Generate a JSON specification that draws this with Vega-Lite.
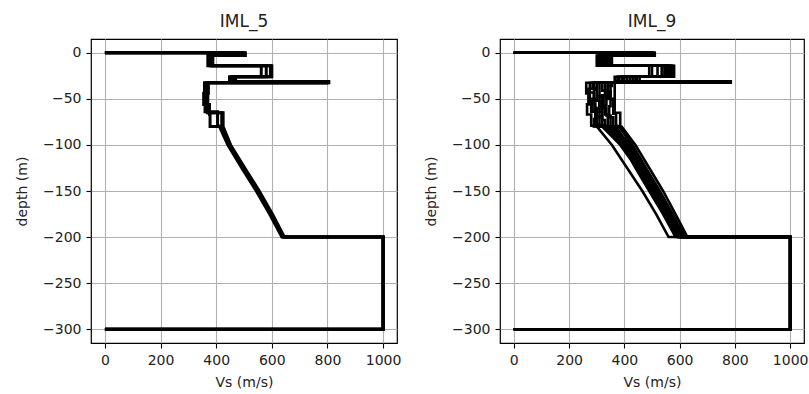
{
"$schema": "https://vega.github.io/schema/vega-lite/v6.json",
"padding": {"left": 14, "top": 12, "right": 0, "bottom": 0},
"spacing": 103,
"bounds": "flush",
"config": {
  "font": "DejaVu Sans",
  "view": {"stroke": "black", "strokeWidth": 1.2},
  "axis": {"grid": true, "gridColor": "#b0b0b0", "gridWidth": 1.1, "domain": false, "tickColor": "black", "tickSize": 5, "tickWidth": 1.1, "labelFontSize": 14, "labelColor": "#222222", "titleFontSize": 14, "titleFontWeight": "normal", "titleColor": "#222222", "labelPadding": 5, "format": "d"},
  "axisY": {"titlePadding": 13},
  "axisX": {"titlePadding": 8},
  "title": {"fontSize": 17, "fontWeight": "normal", "offset": 8, "color": "#222222"}
},
"datasets": {
"iml5": [
{"p":1,"v":0,"d":0},{"p":1,"v":505,"d":0},{"p":1,"v":505,"d":-3},{"p":1,"v":378,"d":-3},{"p":1,"v":378,"d":-14},{"p":1,"v":595,"d":-14},{"p":1,"v":595,"d":-26},{"p":1,"v":455,"d":-26},{"p":1,"v":455,"d":-31},{"p":1,"v":800,"d":-31},{"p":1,"v":800,"d":-32.5},{"p":1,"v":365,"d":-32.5},{"p":1,"v":365,"d":-56},{"p":1,"v":368,"d":-56},{"p":1,"v":368,"d":-65},{"p":1,"v":420,"d":-65},{"p":1,"v":420,"d":-80},{"p":1,"v":448,"d":-100},{"p":1,"v":498,"d":-125},{"p":1,"v":550,"d":-150},{"p":1,"v":598,"d":-175},{"p":1,"v":642,"d":-200},{"p":1,"v":1000,"d":-200},{"p":1,"v":1000,"d":-300},{"p":1,"v":0,"d":-300},
{"p":2,"v":0,"d":0},{"p":2,"v":480,"d":0},{"p":2,"v":480,"d":-3},{"p":2,"v":370,"d":-3},{"p":2,"v":370,"d":-14},{"p":2,"v":580,"d":-14},{"p":2,"v":580,"d":-26},{"p":2,"v":462,"d":-26},{"p":2,"v":462,"d":-31},{"p":2,"v":798,"d":-31},{"p":2,"v":798,"d":-32.5},{"p":2,"v":358,"d":-32.5},{"p":2,"v":358,"d":-44},{"p":2,"v":360,"d":-44},{"p":2,"v":360,"d":-64},{"p":2,"v":405,"d":-64},{"p":2,"v":405,"d":-78},{"p":2,"v":412,"d":-80},{"p":2,"v":442,"d":-100},{"p":2,"v":492,"d":-125},{"p":2,"v":544,"d":-150},{"p":2,"v":592,"d":-175},{"p":2,"v":636,"d":-200},{"p":2,"v":1000,"d":-200},{"p":2,"v":1000,"d":-300},{"p":2,"v":0,"d":-300},
{"p":3,"v":0,"d":0},{"p":3,"v":500,"d":0},{"p":3,"v":500,"d":-3},{"p":3,"v":388,"d":-3},{"p":3,"v":388,"d":-14},{"p":3,"v":562,"d":-14},{"p":3,"v":562,"d":-26},{"p":3,"v":448,"d":-26},{"p":3,"v":448,"d":-31},{"p":3,"v":795,"d":-31},{"p":3,"v":795,"d":-32.5},{"p":3,"v":372,"d":-32.5},{"p":3,"v":372,"d":-44},{"p":3,"v":370,"d":-44},{"p":3,"v":370,"d":-56},{"p":3,"v":376,"d":-56},{"p":3,"v":376,"d":-67},{"p":3,"v":378,"d":-67},{"p":3,"v":378,"d":-80},{"p":3,"v":416,"d":-80},{"p":3,"v":446,"d":-100},{"p":3,"v":496,"d":-125},{"p":3,"v":548,"d":-150},{"p":3,"v":596,"d":-175},{"p":3,"v":640,"d":-200},{"p":3,"v":1000,"d":-200},{"p":3,"v":1000,"d":-300},{"p":3,"v":0,"d":-300},
{"p":4,"v":0,"d":0},{"p":4,"v":470,"d":0},{"p":4,"v":470,"d":-3},{"p":4,"v":382,"d":-3},{"p":4,"v":382,"d":-14},{"p":4,"v":600,"d":-14},{"p":4,"v":600,"d":-26},{"p":4,"v":470,"d":-26},{"p":4,"v":470,"d":-31},{"p":4,"v":805,"d":-31},{"p":4,"v":805,"d":-32.5},{"p":4,"v":368,"d":-32.5},{"p":4,"v":368,"d":-44},{"p":4,"v":355,"d":-44},{"p":4,"v":355,"d":-56},{"p":4,"v":372,"d":-56},{"p":4,"v":372,"d":-65},{"p":4,"v":425,"d":-65},{"p":4,"v":425,"d":-80},{"p":4,"v":452,"d":-100},{"p":4,"v":503,"d":-125},{"p":4,"v":555,"d":-150},{"p":4,"v":602,"d":-175},{"p":4,"v":645,"d":-200},{"p":4,"v":1000,"d":-200},{"p":4,"v":1000,"d":-300},{"p":4,"v":0,"d":-300}
],
"iml9": [
{"p":1,"v":0,"d":0},{"p":1,"v":505,"d":0},{"p":1,"v":505,"d":-3},{"p":1,"v":305,"d":-3},{"p":1,"v":305,"d":-14},{"p":1,"v":580,"d":-14},{"p":1,"v":580,"d":-26},{"p":1,"v":365,"d":-26},{"p":1,"v":365,"d":-31},{"p":1,"v":780,"d":-31},{"p":1,"v":780,"d":-32.5},{"p":1,"v":262,"d":-32.5},{"p":1,"v":262,"d":-44},{"p":1,"v":275,"d":-44},{"p":1,"v":275,"d":-56},{"p":1,"v":265,"d":-56},{"p":1,"v":265,"d":-67},{"p":1,"v":280,"d":-67},{"p":1,"v":280,"d":-79},{"p":1,"v":300,"d":-80},{"p":1,"v":355,"d":-100},{"p":1,"v":410,"d":-125},{"p":1,"v":465,"d":-150},{"p":1,"v":515,"d":-175},{"p":1,"v":560,"d":-200},{"p":1,"v":1000,"d":-200},{"p":1,"v":1000,"d":-300},{"p":1,"v":0,"d":-300},
{"p":2,"v":0,"d":0},{"p":2,"v":490,"d":0},{"p":2,"v":490,"d":-3},{"p":2,"v":320,"d":-3},{"p":2,"v":320,"d":-14},{"p":2,"v":560,"d":-14},{"p":2,"v":560,"d":-26},{"p":2,"v":380,"d":-26},{"p":2,"v":380,"d":-31},{"p":2,"v":775,"d":-31},{"p":2,"v":775,"d":-32.5},{"p":2,"v":300,"d":-32.5},{"p":2,"v":300,"d":-40},{"p":2,"v":290,"d":-40},{"p":2,"v":290,"d":-52},{"p":2,"v":310,"d":-52},{"p":2,"v":310,"d":-70},{"p":2,"v":300,"d":-70},{"p":2,"v":300,"d":-80},{"p":2,"v":330,"d":-80},{"p":2,"v":395,"d":-100},{"p":2,"v":440,"d":-125},{"p":2,"v":490,"d":-150},{"p":2,"v":540,"d":-175},{"p":2,"v":585,"d":-200},{"p":2,"v":1000,"d":-200},{"p":2,"v":1000,"d":-300},{"p":2,"v":0,"d":-300},
{"p":3,"v":0,"d":0},{"p":3,"v":510,"d":0},{"p":3,"v":510,"d":-3},{"p":3,"v":340,"d":-3},{"p":3,"v":340,"d":-14},{"p":3,"v":575,"d":-14},{"p":3,"v":575,"d":-26},{"p":3,"v":400,"d":-26},{"p":3,"v":400,"d":-31},{"p":3,"v":782,"d":-31},{"p":3,"v":782,"d":-32.5},{"p":3,"v":330,"d":-32.5},{"p":3,"v":330,"d":-46},{"p":3,"v":320,"d":-46},{"p":3,"v":320,"d":-60},{"p":3,"v":335,"d":-60},{"p":3,"v":335,"d":-68},{"p":3,"v":350,"d":-68},{"p":3,"v":350,"d":-80},{"p":3,"v":370,"d":-80},{"p":3,"v":415,"d":-100},{"p":3,"v":462,"d":-125},{"p":3,"v":510,"d":-150},{"p":3,"v":560,"d":-175},{"p":3,"v":605,"d":-200},{"p":3,"v":1000,"d":-200},{"p":3,"v":1000,"d":-300},{"p":3,"v":0,"d":-300},
{"p":4,"v":0,"d":0},{"p":4,"v":475,"d":0},{"p":4,"v":475,"d":-3},{"p":4,"v":355,"d":-3},{"p":4,"v":355,"d":-14},{"p":4,"v":500,"d":-14},{"p":4,"v":500,"d":-26},{"p":4,"v":440,"d":-26},{"p":4,"v":440,"d":-31},{"p":4,"v":770,"d":-31},{"p":4,"v":770,"d":-32.5},{"p":4,"v":365,"d":-32.5},{"p":4,"v":365,"d":-65},{"p":4,"v":385,"d":-65},{"p":4,"v":385,"d":-80},{"p":4,"v":390,"d":-80},{"p":4,"v":440,"d":-100},{"p":4,"v":490,"d":-125},{"p":4,"v":540,"d":-150},{"p":4,"v":585,"d":-175},{"p":4,"v":628,"d":-200},{"p":4,"v":1000,"d":-200},{"p":4,"v":1000,"d":-300},{"p":4,"v":0,"d":-300},
{"p":5,"v":0,"d":0},{"p":5,"v":500,"d":0},{"p":5,"v":500,"d":-3},{"p":5,"v":310,"d":-3},{"p":5,"v":310,"d":-14},{"p":5,"v":545,"d":-14},{"p":5,"v":545,"d":-26},{"p":5,"v":420,"d":-26},{"p":5,"v":420,"d":-31},{"p":5,"v":780,"d":-31},{"p":5,"v":780,"d":-32.5},{"p":5,"v":285,"d":-32.5},{"p":5,"v":285,"d":-38},{"p":5,"v":300,"d":-38},{"p":5,"v":300,"d":-50},{"p":5,"v":280,"d":-50},{"p":5,"v":280,"d":-64},{"p":5,"v":320,"d":-64},{"p":5,"v":320,"d":-78},{"p":5,"v":345,"d":-80},{"p":5,"v":405,"d":-100},{"p":5,"v":455,"d":-125},{"p":5,"v":505,"d":-150},{"p":5,"v":555,"d":-175},{"p":5,"v":600,"d":-200},{"p":5,"v":1000,"d":-200},{"p":5,"v":1000,"d":-300},{"p":5,"v":0,"d":-300},
{"p":6,"v":0,"d":0},{"p":6,"v":485,"d":0},{"p":6,"v":485,"d":-3},{"p":6,"v":330,"d":-3},{"p":6,"v":330,"d":-14},{"p":6,"v":520,"d":-14},{"p":6,"v":520,"d":-26},{"p":6,"v":455,"d":-26},{"p":6,"v":455,"d":-31},{"p":6,"v":785,"d":-31},{"p":6,"v":785,"d":-32.5},{"p":6,"v":340,"d":-32.5},{"p":6,"v":340,"d":-42},{"p":6,"v":350,"d":-42},{"p":6,"v":350,"d":-58},{"p":6,"v":345,"d":-58},{"p":6,"v":345,"d":-70},{"p":6,"v":360,"d":-70},{"p":6,"v":360,"d":-80},{"p":6,"v":380,"d":-80},{"p":6,"v":430,"d":-100},{"p":6,"v":478,"d":-125},{"p":6,"v":528,"d":-150},{"p":6,"v":575,"d":-175},{"p":6,"v":620,"d":-200},{"p":6,"v":1000,"d":-200},{"p":6,"v":1000,"d":-300},{"p":6,"v":0,"d":-300},
{"p":7,"v":0,"d":0},{"p":7,"v":500,"d":0},{"p":7,"v":500,"d":-3},{"p":7,"v":345,"d":-3},{"p":7,"v":345,"d":-14},{"p":7,"v":565,"d":-14},{"p":7,"v":565,"d":-26},{"p":7,"v":390,"d":-26},{"p":7,"v":390,"d":-31},{"p":7,"v":778,"d":-31},{"p":7,"v":778,"d":-32.5},{"p":7,"v":310,"d":-32.5},{"p":7,"v":310,"d":-48},{"p":7,"v":325,"d":-48},{"p":7,"v":325,"d":-60},{"p":7,"v":300,"d":-60},{"p":7,"v":300,"d":-72},{"p":7,"v":290,"d":-72},{"p":7,"v":290,"d":-80},{"p":7,"v":320,"d":-80},{"p":7,"v":385,"d":-100},{"p":7,"v":445,"d":-125},{"p":7,"v":495,"d":-150},{"p":7,"v":548,"d":-175},{"p":7,"v":592,"d":-200},{"p":7,"v":1000,"d":-200},{"p":7,"v":1000,"d":-300},{"p":7,"v":0,"d":-300},
{"p":8,"v":0,"d":0},{"p":8,"v":470,"d":0},{"p":8,"v":470,"d":-3},{"p":8,"v":315,"d":-3},{"p":8,"v":315,"d":-14},{"p":8,"v":535,"d":-14},{"p":8,"v":535,"d":-26},{"p":8,"v":410,"d":-26},{"p":8,"v":410,"d":-31},{"p":8,"v":772,"d":-31},{"p":8,"v":772,"d":-32.5},{"p":8,"v":355,"d":-32.5},{"p":8,"v":355,"d":-36},{"p":8,"v":340,"d":-36},{"p":8,"v":340,"d":-50},{"p":8,"v":360,"d":-50},{"p":8,"v":360,"d":-66},{"p":8,"v":370,"d":-66},{"p":8,"v":370,"d":-79},{"p":8,"v":385,"d":-80},{"p":8,"v":425,"d":-100},{"p":8,"v":470,"d":-125},{"p":8,"v":520,"d":-150},{"p":8,"v":568,"d":-175},{"p":8,"v":612,"d":-200},{"p":8,"v":1000,"d":-200},{"p":8,"v":1000,"d":-300},{"p":8,"v":0,"d":-300},
{"p":9,"v":0,"d":0},{"p":9,"v":495,"d":0},{"p":9,"v":495,"d":-3},{"p":9,"v":350,"d":-3},{"p":9,"v":350,"d":-14},{"p":9,"v":555,"d":-14},{"p":9,"v":555,"d":-26},{"p":9,"v":375,"d":-26},{"p":9,"v":375,"d":-31},{"p":9,"v":780,"d":-31},{"p":9,"v":780,"d":-32.5},{"p":9,"v":275,"d":-32.5},{"p":9,"v":275,"d":-43},{"p":9,"v":290,"d":-43},{"p":9,"v":290,"d":-55},{"p":9,"v":295,"d":-55},{"p":9,"v":295,"d":-69},{"p":9,"v":310,"d":-69},{"p":9,"v":310,"d":-80},{"p":9,"v":340,"d":-80},{"p":9,"v":398,"d":-100},{"p":9,"v":450,"d":-125},{"p":9,"v":500,"d":-150},{"p":9,"v":550,"d":-175},{"p":9,"v":596,"d":-200},{"p":9,"v":1000,"d":-200},{"p":9,"v":1000,"d":-300},{"p":9,"v":0,"d":-300},
{"p":10,"v":0,"d":0},{"p":10,"v":508,"d":0},{"p":10,"v":508,"d":-3},{"p":10,"v":325,"d":-3},{"p":10,"v":325,"d":-14},{"p":10,"v":490,"d":-14},{"p":10,"v":490,"d":-26},{"p":10,"v":445,"d":-26},{"p":10,"v":445,"d":-31},{"p":10,"v":776,"d":-31},{"p":10,"v":776,"d":-32.5},{"p":10,"v":320,"d":-32.5},{"p":10,"v":320,"d":-41},{"p":10,"v":335,"d":-41},{"p":10,"v":335,"d":-57},{"p":10,"v":330,"d":-57},{"p":10,"v":330,"d":-67},{"p":10,"v":340,"d":-67},{"p":10,"v":340,"d":-80},{"p":10,"v":360,"d":-80},{"p":10,"v":420,"d":-100},{"p":10,"v":468,"d":-125},{"p":10,"v":518,"d":-150},{"p":10,"v":565,"d":-175},{"p":10,"v":615,"d":-200},{"p":10,"v":1000,"d":-200},{"p":10,"v":1000,"d":-300},{"p":10,"v":0,"d":-300},
{"p":11,"v":0,"d":0},{"p":11,"v":498,"d":0},{"p":11,"v":498,"d":-3},{"p":11,"v":335,"d":-3},{"p":11,"v":335,"d":-14},{"p":11,"v":570,"d":-14},{"p":11,"v":570,"d":-26},{"p":11,"v":430,"d":-26},{"p":11,"v":430,"d":-31},{"p":11,"v":779,"d":-31},{"p":11,"v":779,"d":-32.5},{"p":11,"v":290,"d":-32.5},{"p":11,"v":290,"d":-39},{"p":11,"v":270,"d":-39},{"p":11,"v":270,"d":-53},{"p":11,"v":285,"d":-53},{"p":11,"v":285,"d":-63},{"p":11,"v":295,"d":-63},{"p":11,"v":295,"d":-77},{"p":11,"v":325,"d":-80},{"p":11,"v":390,"d":-100},{"p":11,"v":448,"d":-125},{"p":11,"v":498,"d":-150},{"p":11,"v":552,"d":-175},{"p":11,"v":598,"d":-200},{"p":11,"v":1000,"d":-200},{"p":11,"v":1000,"d":-300},{"p":11,"v":0,"d":-300},
{"p":12,"v":0,"d":0},{"p":12,"v":480,"d":0},{"p":12,"v":480,"d":-3},{"p":12,"v":300,"d":-3},{"p":12,"v":300,"d":-14},{"p":12,"v":550,"d":-14},{"p":12,"v":550,"d":-26},{"p":12,"v":395,"d":-26},{"p":12,"v":395,"d":-31},{"p":12,"v":783,"d":-31},{"p":12,"v":783,"d":-32.5},{"p":12,"v":350,"d":-32.5},{"p":12,"v":350,"d":-47},{"p":12,"v":310,"d":-47},{"p":12,"v":310,"d":-59},{"p":12,"v":320,"d":-59},{"p":12,"v":320,"d":-73},{"p":12,"v":330,"d":-73},{"p":12,"v":330,"d":-80},{"p":12,"v":355,"d":-80},{"p":12,"v":410,"d":-100},{"p":12,"v":460,"d":-125},{"p":12,"v":512,"d":-150},{"p":12,"v":560,"d":-175},{"p":12,"v":608,"d":-200},{"p":12,"v":1000,"d":-200},{"p":12,"v":1000,"d":-300},{"p":12,"v":0,"d":-300}
]
},
"hconcat": [
{
  "title": "IML_5",
  "width": 306, "height": 304,
  "data": {"name": "iml5"},
  "mark": {"type": "line", "color": "black", "strokeWidth": 3},
  "encoding": {
    "x": {"field": "v", "type": "quantitative", "scale": {"domain": [-50, 1050], "nice": false, "zero": false}, "axis": {"values": [0, 200, 400, 600, 800, 1000], "title": "Vs (m/s)"}},
    "y": {"field": "d", "type": "quantitative", "scale": {"domain": [-315, 15], "nice": false, "zero": false}, "axis": {"values": [0, -50, -100, -150, -200, -250, -300], "title": "depth (m)"}},
    "detail": {"field": "p", "type": "nominal"},
    "order": {"value": null}
  }
},
{
  "title": "IML_9",
  "width": 304, "height": 304,
  "data": {"name": "iml9"},
  "mark": {"type": "line", "color": "black", "strokeWidth": 2.6},
  "encoding": {
    "x": {"field": "v", "type": "quantitative", "scale": {"domain": [-50, 1050], "nice": false, "zero": false}, "axis": {"values": [0, 200, 400, 600, 800, 1000], "title": "Vs (m/s)"}},
    "y": {"field": "d", "type": "quantitative", "scale": {"domain": [-315, 15], "nice": false, "zero": false}, "axis": {"values": [0, -50, -100, -150, -200, -250, -300], "title": "depth (m)"}},
    "detail": {"field": "p", "type": "nominal"},
    "order": {"value": null}
  }
}
]
}
